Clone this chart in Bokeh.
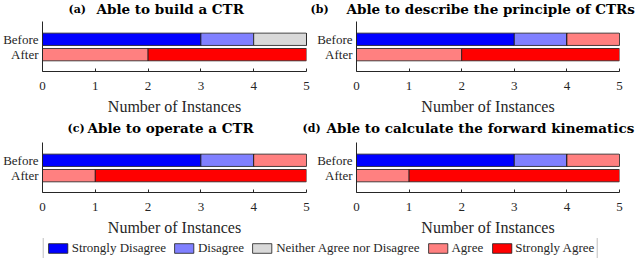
from bokeh.plotting import figure
from bokeh.models import Range1d, FixedTicker, ColumnDataSource, Legend, LegendItem
from bokeh.layouts import column, row
from bokeh.embed import file_html
from bokeh.resources import INLINE
from bokeh.core.properties import value

# ---------------- data ----------------
categories = ["Strongly Disagree", "Disagree", "Neither Agree nor Disagree",
              "Agree", "Strongly Agree"]
colors = ["#0000FF", "#8080FF", "#D9D9D9", "#FF8080", "#FF0000"]
stages = ["Before", "After"]

panel_labels = ["(a)", "(b)", "(c)", "(d)"]
panel_titles = ["Able to build a CTR",
                "Able to describe the principle of CTRs",
                "Able to operate a CTR",
                "Able to calculate the forward kinematics"]

before_a = [3, 1, 1, 0, 0]
after_a = [0, 0, 0, 2, 3]
before_b = [3, 1, 0, 1, 0]
after_b = [0, 0, 0, 2, 3]
before_c = [3, 1, 0, 1, 0]
after_c = [0, 0, 0, 1, 4]
before_d = [3, 1, 0, 1, 0]
after_d = [0, 0, 0, 1, 4]

x_ticks = [0, 1, 2, 3, 4, 5]
x_label = "Number of Instances"

# ---------------- style ----------------
SERIF = "Liberation Serif"
TSERIF = "DejaVu Serif"
AX = "#262626"
W = 640


def panel(before, after, width, bl, br):
    keys = ["c%d" % i for i in range(len(categories))]
    data = {"y": [2, 1]}
    for k, b, a in zip(keys, before, after):
        data[k] = [b, a]
    src = ColumnDataSource(data)
    p = figure(width=width, height=96, x_range=Range1d(0, 5),
               y_range=Range1d(-0.094, 3.156), output_backend="svg",
               toolbar_location=None, title=None,
               min_border_left=bl, min_border_right=br,
               min_border_top=0, min_border_bottom=44)
    p.hbar_stack(keys, y="y", height=0.8, fill_color=colors,
                 line_color="#1a1a1a", line_width=0.8, source=src)
    p.outline_line_color = None
    p.grid.visible = False
    p.background_fill_color = "white"
    p.border_fill_color = "white"
    p.xaxis.ticker = FixedTicker(ticks=x_ticks)
    p.xaxis.minor_tick_line_color = None
    p.xaxis.major_tick_in = 3
    p.xaxis.major_tick_out = 0
    p.xaxis.major_tick_line_color = AX
    p.xaxis.axis_line_color = AX
    p.xaxis.major_label_text_font = SERIF
    p.xaxis.major_label_text_font_size = "13px"
    p.xaxis.major_label_text_color = AX
    p.xaxis.major_label_standoff = 10
    p.xaxis.axis_label = x_label
    p.xaxis.axis_label_text_font = SERIF
    p.xaxis.axis_label_text_font_size = "16px"
    p.xaxis.axis_label_text_font_style = "normal"
    p.xaxis.axis_label_text_color = AX
    p.xaxis.axis_label_standoff = 5
    p.yaxis.ticker = FixedTicker(ticks=[2, 1])
    p.yaxis.major_label_overrides = {2: stages[0], 1: stages[1]}
    p.yaxis.minor_tick_line_color = None
    p.yaxis.major_tick_in = 0
    p.yaxis.major_tick_out = 0
    p.yaxis.axis_line_color = AX
    p.yaxis.major_label_text_font = SERIF
    p.yaxis.major_label_text_font_size = "13px"
    p.yaxis.major_label_text_color = AX
    p.yaxis.major_label_standoff = 4
    return p


def title_strip(h, yc, idx, lab_x, txt_x):
    s = figure(width=W, height=h, x_range=Range1d(0, W), y_range=Range1d(h, 0),
               output_backend="svg", toolbar_location=None, title=None,
               min_border=0)
    s.axis.visible = False
    s.grid.visible = False
    s.outline_line_color = None
    for i, lx, tx in zip(idx, lab_x, txt_x):
        s.text(x=[lx], y=[yc], text=[panel_labels[i]], text_font=value(TSERIF),
               text_font_style="bold", text_font_size="11px",
               text_baseline="middle", text_align="left", text_color="black")
        s.text(x=[tx], y=[yc], text=[panel_titles[i]], text_font=value(TSERIF),
               text_font_style="bold", text_font_size="13.5px",
               text_baseline="middle", text_align="left", text_color="black")
    return s


t1 = title_strip(21, 8.5, [0, 1], [68, 310], [96, 346])
t2 = title_strip(25, 10.5, [2, 3], [67, 302], [87, 326])

pa = panel(before_a, after_a, 314, 42, 8)
pb = panel(before_b, after_b, 326, 42, 21)
pc = panel(before_c, after_c, 314, 42, 8)
pd = panel(before_d, after_d, 326, 42, 21)

lg = figure(width=W, height=20, x_range=Range1d(0, 1), y_range=Range1d(0, 1),
            output_backend="svg", toolbar_location=None, title=None, min_border=0)
lg.axis.visible = False
lg.grid.visible = False
lg.outline_line_color = None
items = []
for cat, col in zip(categories, colors):
    # renderer only feeds the legend swatch; its bar lies far outside the view
    r = lg.hbar(y=[1000], left=[1000], right=[1001], height=1, fill_color=col,
                line_color="#1a1a1a", line_width=0.8)
    items.append(LegendItem(label=cat, renderers=[r]))
leg = Legend(items=items, orientation="horizontal", location="center",
             glyph_width=24, glyph_height=12, label_standoff=2, spacing=6,
             padding=2, margin=0, label_height=12,
             label_text_font=SERIF, label_text_font_size="13px",
             label_text_color=AX, border_line_color="#7f7f7f",
             border_line_width=1, background_fill_color="white")
lg.add_layout(leg)

layout = column(t1, row(pa, pb), t2, row(pc, pd), lg)
open("out.html", "w").write(file_html(layout, INLINE))
